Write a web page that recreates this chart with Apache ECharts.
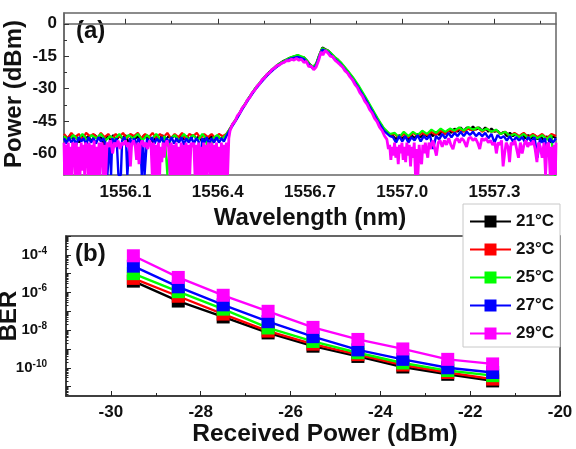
<!DOCTYPE html>
<html>
<head>
<meta charset="utf-8">
<script src="https://cdn.jsdelivr.net/npm/echarts@6.0.0/dist/echarts.min.js"></script>
<style>
  html, body { margin: 0; padding: 0; background: #fff; }
  #main { width: 576px; height: 449px; }
</style>
</head>
<body>
<div id="main"></div>
<script>
// ---- panel (a): optical spectra, [wavelength nm, power dBm] ----
const spec21 = [
  [1555.900,-52],[1555.910,-54],[1555.920,-51.5],[1555.930,-53.5],[1555.940,-52],[1555.950,-55],[1555.960,-51.5],[1555.970,-53],[1555.980,-52],[1555.990,-54.5],
  [1556.000,-51.5],[1556.010,-53],[1556.020,-52.5],[1556.030,-56],[1556.040,-52],[1556.050,-53.5],[1556.060,-51.5],[1556.070,-54],[1556.080,-52],[1556.090,-53],
  [1556.100,-51.5],[1556.110,-55],[1556.120,-52],[1556.130,-53.5],[1556.140,-52],[1556.150,-54],[1556.160,-51.5],[1556.170,-53],[1556.180,-52.5],[1556.190,-55],
  [1556.200,-52],[1556.210,-53.5],[1556.220,-51.5],[1556.230,-54],[1556.240,-52],[1556.250,-53],[1556.260,-51.5],[1556.270,-54.5],[1556.280,-52],[1556.290,-53.5],
  [1556.300,-52],[1556.310,-54],[1556.320,-51.5],[1556.330,-53],[1556.340,-52],[1556.350,-55],[1556.360,-52],[1556.370,-53.5],[1556.380,-52],[1556.390,-54],
  [1556.400,-52.5],[1556.410,-53],[1556.420,-52],[1556.430,-51.5],
  [1556.440,-48.5],[1556.450,-46],[1556.460,-44],[1556.470,-41.5],[1556.480,-39],[1556.490,-36.8],[1556.500,-34.5],[1556.510,-32.5],[1556.520,-30.3],[1556.530,-28.5],
  [1556.540,-26.8],[1556.550,-25],[1556.560,-23.5],[1556.570,-22],[1556.580,-20.8],[1556.590,-19.5],[1556.600,-18.5],[1556.610,-17.5],[1556.620,-16.8],[1556.630,-16],
  [1556.640,-15.5],[1556.650,-15],[1556.660,-14.6],[1556.670,-15.3],[1556.680,-15.5],[1556.690,-17],[1556.700,-18.8],[1556.710,-20],[1556.720,-18.5],[1556.730,-14.5],
  [1556.740,-11],[1556.750,-11.8],[1556.760,-12.5],[1556.770,-14],[1556.780,-15.5],[1556.790,-16.5],[1556.800,-18],[1556.810,-19.8],[1556.820,-21.5],[1556.830,-23.3],
  [1556.840,-25.2],[1556.850,-27.5],[1556.860,-29.5],[1556.870,-32],[1556.880,-34.3],[1556.890,-36.8],[1556.900,-39.3],[1556.910,-41.8],[1556.920,-44.2],[1556.930,-46.5],
  [1556.940,-48.5],[1556.950,-50.3],[1556.960,-51.5],
  [1556.970,-52],[1556.980,-53.5],[1556.990,-51.5],[1557.000,-53],[1557.010,-52],[1557.020,-54],[1557.030,-51.5],[1557.040,-53],[1557.050,-51],[1557.060,-52.5],
  [1557.070,-51],[1557.080,-52],[1557.090,-50.5],[1557.100,-52],[1557.110,-50],[1557.120,-51.5],[1557.130,-49.5],[1557.140,-51],[1557.150,-49],[1557.160,-50.5],
  [1557.170,-48.5],[1557.180,-50],[1557.190,-48],[1557.200,-49.5],[1557.210,-48],[1557.220,-49],[1557.230,-47.5],[1557.240,-49],[1557.250,-48],[1557.260,-49.5],
  [1557.270,-48],[1557.280,-50],[1557.290,-48.5],[1557.300,-50],[1557.310,-49.5],[1557.320,-51],[1557.330,-50],[1557.340,-52],[1557.350,-50.5],[1557.360,-52],
  [1557.370,-51],[1557.380,-52.5],[1557.390,-51],[1557.400,-53],[1557.410,-51.5],[1557.420,-53],[1557.430,-51.5],[1557.440,-53.5],[1557.450,-52],[1557.460,-54],
  [1557.470,-52],[1557.480,-55],[1557.490,-52],[1557.500,-53]
]
const spec23 = [
  [1555.900,-51],[1555.912,-53],[1555.924,-50.5],[1555.936,-52.5],[1555.948,-51],[1555.960,-53.5],[1555.972,-50.5],[1555.984,-52],[1555.996,-51],[1556.008,-53],
  [1556.020,-50.5],[1556.032,-52.5],[1556.044,-51],[1556.056,-53.5],[1556.068,-51],[1556.080,-52.5],[1556.092,-50.5],[1556.104,-53],[1556.116,-51],[1556.128,-52],
  [1556.140,-50.5],[1556.152,-53],[1556.164,-51],[1556.176,-52.5],[1556.188,-50.5],[1556.200,-53],[1556.212,-51],[1556.224,-52.5],[1556.236,-50.5],[1556.248,-53],
  [1556.260,-51],[1556.272,-52.5],[1556.284,-50.5],[1556.296,-53.5],[1556.308,-51],[1556.320,-52],[1556.332,-50.5],[1556.344,-53],[1556.356,-51],[1556.368,-52.5],
  [1556.380,-51],[1556.392,-53],[1556.404,-51],[1556.416,-52],[1556.428,-51],
  [1556.440,-48.5],[1556.460,-44.2],[1556.480,-39.2],[1556.500,-34.7],[1556.520,-30.5],[1556.540,-27],[1556.560,-23.8],[1556.580,-21],[1556.600,-18.8],[1556.620,-17],
  [1556.640,-15.8],[1556.660,-15],[1556.680,-15.8],[1556.700,-19],[1556.710,-20.3],[1556.720,-18.8],[1556.730,-14.8],[1556.740,-11.5],[1556.750,-12],[1556.760,-12.8],
  [1556.780,-15.8],[1556.800,-18.3],[1556.820,-21.8],[1556.840,-25.5],[1556.860,-29.8],[1556.880,-34.5],[1556.900,-39.5],[1556.920,-44.5],[1556.940,-48.8],[1556.960,-51.5],
  [1556.975,-51],[1556.990,-53],[1557.005,-51],[1557.020,-52.5],[1557.035,-50.5],[1557.050,-52],[1557.065,-50.5],[1557.080,-51.5],[1557.095,-50],[1557.110,-51.5],
  [1557.125,-49.5],[1557.140,-51],[1557.155,-49],[1557.170,-50.5],[1557.185,-48.5],[1557.200,-50],[1557.215,-48.5],[1557.230,-49.5],[1557.245,-48],[1557.260,-50],
  [1557.275,-48.5],[1557.290,-50],[1557.305,-49.5],[1557.320,-51],[1557.335,-50],[1557.350,-52],[1557.365,-50.5],[1557.380,-52],[1557.395,-50.5],[1557.410,-52.5],
  [1557.425,-51],[1557.440,-52.5],[1557.455,-51],[1557.470,-53],[1557.485,-51],[1557.500,-52]
]
const spec25 = [
  [1555.900,-52],[1555.915,-54],[1555.930,-51.5],[1555.945,-53.5],[1555.960,-51],[1555.975,-54],[1555.990,-51.5],[1556.005,-53],[1556.020,-51],[1556.035,-54],
  [1556.050,-52],[1556.065,-53.5],[1556.080,-51],[1556.095,-54],[1556.110,-51.5],[1556.125,-53],[1556.140,-51],[1556.155,-54],[1556.170,-51.5],[1556.185,-53.5],
  [1556.200,-51],[1556.215,-54],[1556.228,-52],[1556.236,-70],[1556.240,-70],[1556.246,-53],[1556.260,-51.5],[1556.275,-54],[1556.290,-51],[1556.305,-53.5],
  [1556.320,-51.5],[1556.335,-54],[1556.350,-51],[1556.362,-53],[1556.372,-68],[1556.378,-68],[1556.384,-53],[1556.398,-51.5],[1556.412,-53.5],[1556.426,-51.5],
  [1556.440,-48.5],[1556.460,-44],[1556.480,-39],[1556.500,-34.5],[1556.520,-30.2],[1556.540,-26.7],[1556.560,-23.5],[1556.580,-20.8],[1556.600,-18.5],[1556.620,-16.8],
  [1556.640,-15.4],[1556.660,-14.5],[1556.680,-15.5],[1556.700,-18.8],[1556.710,-20],[1556.720,-18.5],[1556.730,-14.5],[1556.740,-11.3],[1556.750,-12],[1556.760,-12.5],
  [1556.780,-15.3],[1556.800,-17.8],[1556.820,-21.2],[1556.840,-24.8],[1556.860,-29],[1556.880,-33.8],[1556.900,-38.8],[1556.920,-43.8],[1556.940,-48.3],[1556.960,-51],
  [1556.975,-50.5],[1556.990,-52.5],[1557.005,-50],[1557.020,-52],[1557.035,-50],[1557.050,-51.5],[1557.065,-49.5],[1557.080,-51],[1557.095,-49],[1557.110,-50.5],
  [1557.125,-48.5],[1557.140,-50],[1557.155,-48.5],[1557.170,-49.5],[1557.185,-48],[1557.200,-49.5],[1557.215,-47.8],[1557.230,-49],[1557.245,-48],[1557.260,-49.5],
  [1557.275,-48.5],[1557.290,-50],[1557.305,-49],[1557.320,-51],[1557.335,-50],[1557.350,-52],[1557.365,-51],[1557.380,-52.5],[1557.395,-51],[1557.410,-53],
  [1557.425,-51.5],[1557.440,-53],[1557.455,-51.5],[1557.470,-53.5],[1557.485,-51.5],[1557.495,-70],[1557.500,-70]
]
const spec27 = [
  [1555.900,-53],[1555.908,-55.5],[1555.916,-52.5],[1555.924,-55],[1555.932,-53],[1555.940,-56],[1555.948,-52.5],[1555.956,-54.5],[1555.964,-53],[1555.972,-56],
  [1555.980,-52.5],[1555.988,-55],[1555.996,-53],[1556.004,-55.5],[1556.012,-52.5],[1556.020,-54.5],[1556.028,-53],[1556.036,-56],[1556.041,-70],[1556.045,-70],
  [1556.049,-54],[1556.053,-70],[1556.057,-53],[1556.064,-55],[1556.071,-53],[1556.077,-70],[1556.081,-70],[1556.085,-70],[1556.089,-54],[1556.096,-52.5],
  [1556.102,-55],[1556.106,-70],[1556.110,-70],[1556.114,-53],[1556.121,-55.5],[1556.128,-53],[1556.135,-56],[1556.142,-53],[1556.148,-55],[1556.153,-70],
  [1556.157,-54],[1556.162,-70],[1556.166,-70],[1556.170,-53],[1556.178,-55],[1556.186,-52.5],[1556.194,-55.5],[1556.202,-53],[1556.210,-55],[1556.218,-52.5],
  [1556.226,-56],[1556.234,-53],[1556.242,-55],[1556.250,-52.5],[1556.258,-55.5],[1556.266,-53],[1556.274,-55],[1556.282,-52.5],[1556.290,-56],[1556.298,-53],
  [1556.306,-55],[1556.314,-52.5],[1556.322,-55.5],[1556.330,-53],[1556.338,-54.5],[1556.345,-70],[1556.349,-53],[1556.356,-55],[1556.364,-52.5],[1556.372,-55.5],
  [1556.380,-53],[1556.388,-55],[1556.396,-52.5],[1556.404,-55],[1556.412,-53],[1556.420,-54.5],[1556.428,-52],
  [1556.440,-49],[1556.460,-44.5],[1556.480,-39.5],[1556.500,-35],[1556.520,-30.8],[1556.540,-27.3],[1556.560,-24],[1556.580,-21.3],[1556.600,-19],[1556.620,-17.3],
  [1556.640,-16],[1556.660,-15.3],[1556.680,-16.3],[1556.700,-19.5],[1556.710,-20.8],[1556.720,-19.3],[1556.730,-15.3],[1556.740,-12],[1556.750,-12.5],[1556.760,-13.3],
  [1556.780,-16.3],[1556.800,-18.8],[1556.820,-22.3],[1556.840,-26],[1556.860,-30.3],[1556.880,-35],[1556.900,-40],[1556.920,-45],[1556.940,-49.5],[1556.960,-52],
  [1556.970,-52.5],[1556.980,-55],[1556.990,-52],[1557.000,-54.5],[1557.010,-52],[1557.020,-55],[1557.030,-52.5],[1557.040,-54],[1557.050,-51.5],[1557.060,-54.5],
  [1557.070,-52],[1557.080,-53.5],[1557.090,-51.5],[1557.100,-58],[1557.110,-52],[1557.120,-53.5],[1557.130,-51],[1557.140,-53],[1557.150,-50.5],[1557.160,-52.5],
  [1557.170,-50.5],[1557.180,-52],[1557.190,-50],[1557.200,-52],[1557.210,-50],[1557.220,-51.5],[1557.230,-50],[1557.240,-52],[1557.250,-50.5],[1557.260,-52],
  [1557.270,-50.5],[1557.280,-53],[1557.290,-51],[1557.300,-55],[1557.310,-51.5],[1557.320,-53],[1557.330,-52],[1557.340,-54],[1557.350,-52],[1557.360,-54.5],
  [1557.370,-52.5],[1557.380,-54],[1557.390,-52.5],[1557.400,-55],[1557.410,-52.5],[1557.420,-54.5],[1557.430,-52.5],[1557.440,-62],[1557.448,-53],[1557.456,-55],
  [1557.464,-53],[1557.472,-60],[1557.480,-53],[1557.490,-55],[1557.500,-53]
]
const spec29 = [
  [1555.900,-55],[1555.902,-70],[1555.906,-56],[1555.910,-70],[1555.914,-55],[1555.918,-70],[1555.922,-57],[1555.925,-70],[1555.928,-55],[1555.932,-56],
  [1555.936,-70],[1555.940,-55],[1555.944,-70],[1555.948,-57],[1555.952,-70],[1555.956,-55],[1555.960,-68],[1555.964,-56],[1555.967,-70],[1555.970,-55],
  [1555.974,-57],[1555.978,-70],[1555.982,-55],[1555.986,-70],[1555.990,-56],[1555.994,-70],[1555.998,-54],[1556.002,-70],[1556.006,-57],[1556.010,-70],
  [1556.014,-55],[1556.017,-70],[1556.020,-56],[1556.024,-55],[1556.028,-70],[1556.032,-56],[1556.036,-70],[1556.040,-55],
  [1556.046,-57],[1556.052,-54],[1556.058,-60],[1556.064,-55],[1556.070,-57],[1556.076,-54],[1556.082,-58],[1556.088,-55],[1556.094,-56],[1556.100,-54],
  [1556.106,-57],[1556.112,-55],[1556.116,-66],[1556.120,-56],[1556.126,-54],[1556.132,-57],[1556.136,-63],[1556.140,-55],[1556.144,-65],[1556.148,-56],
  [1556.154,-54],[1556.160,-57],[1556.166,-55],[1556.172,-58],[1556.178,-54],[1556.183,-56],
  [1556.187,-70],[1556.191,-55],[1556.195,-70],[1556.199,-56],[1556.203,-70],[1556.207,-55],[1556.211,-70],[1556.214,-57],[1556.218,-64],[1556.222,-55],
  [1556.226,-62],[1556.230,-56],[1556.235,-54],[1556.240,-57],
  [1556.245,-70],[1556.249,-55],[1556.253,-70],[1556.257,-56],[1556.261,-70],[1556.265,-55],[1556.269,-70],[1556.273,-57],[1556.277,-70],[1556.281,-55],
  [1556.285,-70],[1556.289,-56],[1556.293,-70],[1556.297,-55],[1556.301,-70],[1556.305,-56],[1556.309,-70],[1556.313,-55],[1556.318,-57],[1556.322,-55],
  [1556.326,-70],[1556.330,-56],[1556.334,-70],[1556.338,-55],[1556.342,-70],[1556.346,-57],[1556.350,-70],[1556.354,-55],[1556.358,-70],[1556.362,-56],
  [1556.366,-70],[1556.369,-55],[1556.372,-57],[1556.376,-70],[1556.380,-55],[1556.384,-70],[1556.388,-56],[1556.392,-70],[1556.396,-55],[1556.400,-70],
  [1556.404,-57],[1556.408,-70],[1556.412,-55],[1556.416,-70],[1556.420,-56],[1556.424,-70],[1556.428,-55],[1556.432,-70],[1556.436,-53],
  [1556.440,-49.5],[1556.448,-46.5],[1556.456,-45.2],[1556.464,-42.5],[1556.472,-41.2],[1556.480,-38.8],[1556.488,-37.6],[1556.496,-35.3],[1556.504,-34.2],[1556.512,-31.8],
  [1556.520,-30.8],[1556.528,-28.8],[1556.536,-27.8],[1556.544,-25.9],[1556.552,-25.1],[1556.560,-23.4],[1556.568,-22.8],[1556.576,-21.2],[1556.584,-20.6],[1556.592,-19.4],
  [1556.600,-19.1],[1556.608,-18.2],[1556.616,-17.9],[1556.624,-17],[1556.632,-17.1],[1556.640,-16.4],[1556.648,-16.8],[1556.656,-16],[1556.664,-16.9],[1556.672,-16.4],
  [1556.680,-17.9],[1556.688,-17.4],[1556.696,-19.9],[1556.704,-19.5],[1556.712,-21.3],[1556.720,-20],[1556.728,-17],[1556.736,-13],[1556.742,-14.5],[1556.750,-12.3],
  [1556.758,-13.5],[1556.766,-15],[1556.774,-15.3],[1556.782,-17],[1556.790,-17.9],[1556.798,-19],[1556.806,-20],[1556.814,-21.8],[1556.822,-22.8],[1556.830,-24.6],
  [1556.838,-25.9],[1556.846,-28],[1556.854,-29.5],[1556.862,-31.9],[1556.870,-33.4],[1556.878,-35.8],[1556.886,-37.3],[1556.894,-39.8],[1556.902,-41.3],[1556.910,-43.8],
  [1556.918,-45.3],[1556.926,-47.8],[1556.934,-49.3],[1556.942,-51.8],[1556.950,-53.5],
  [1556.955,-58],[1556.959,-56],[1556.963,-63],[1556.967,-57],[1556.971,-61],[1556.975,-55],[1556.979,-62],[1556.983,-57],[1556.987,-65],[1556.991,-56],
  [1556.995,-60],[1556.999,-55],[1557.003,-63],[1557.007,-57],[1557.011,-64],[1557.015,-55],[1557.019,-61],[1557.023,-56],[1557.027,-66],[1557.031,-57],
  [1557.035,-62],[1557.039,-55],[1557.043,-70],[1557.047,-58],[1557.051,-70],[1557.055,-56],[1557.059,-63],[1557.063,-65],[1557.067,-56],[1557.071,-60],
  [1557.075,-55],[1557.079,-59],[1557.083,-62],[1557.087,-55],[1557.091,-58],[1557.095,-56],[1557.100,-54],[1557.106,-58],[1557.111,-61],[1557.117,-55],
  [1557.123,-54],[1557.130,-57],[1557.137,-54],[1557.144,-56],[1557.151,-53],[1557.158,-56],[1557.165,-58],[1557.172,-54],[1557.179,-53],
  [1557.186,-55],[1557.193,-53],[1557.200,-54],[1557.209,-57],[1557.216,-53],[1557.223,-52.5],[1557.230,-54],[1557.238,-53],[1557.245,-55],[1557.252,-58],
  [1557.259,-53],[1557.266,-54],[1557.273,-53],[1557.280,-55],[1557.287,-54],[1557.294,-56],[1557.301,-55],[1557.306,-60],[1557.312,-55],[1557.318,-56],
  [1557.323,-54],[1557.328,-66],[1557.333,-60],[1557.338,-55],[1557.344,-57],[1557.349,-64],[1557.354,-55],[1557.360,-56],[1557.366,-54],[1557.372,-58],
  [1557.378,-62],[1557.384,-55],[1557.390,-60],[1557.396,-56],[1557.402,-54],[1557.408,-57],[1557.414,-55],[1557.420,-56],[1557.426,-54],[1557.432,-58],
  [1557.438,-64],[1557.443,-55],[1557.449,-57],[1557.455,-62],[1557.461,-55],[1557.466,-70],[1557.471,-56],[1557.476,-55],[1557.481,-70],[1557.486,-57],
  [1557.490,-70],[1557.494,-56],[1557.498,-70],[1557.500,-55]
]
const wlLabels = [1556.1, 1556.4, 1556.7, 1557.0, 1557.3]
const wlMinor = [1555.95, 1556.25, 1556.55, 1556.85, 1557.15, 1557.45]
const powLabels = [-60, -45, -30, -15, 0]
const powMinor = [-67.5, -52.5, -37.5, -22.5, -7.5]

// ---- panel (b): BER vs received power ----
const rxPower = [-29.5, -28.5, -27.5, -26.5, -25.5, -24.5, -23.5, -22.5, -21.5]
const ber21 = [4.0e-6, 3.5e-7, 5.0e-8, 7.1e-9, 1.4e-9, 4.0e-10, 1.1e-10, 4.5e-11, 2.0e-11]
const ber23 = [5.6e-6, 6.3e-7, 7.1e-8, 8.9e-9, 1.8e-9, 5.0e-10, 1.4e-10, 5.6e-11, 2.5e-11]
const ber25 = [1.0e-5, 1.1e-6, 1.3e-7, 1.3e-8, 2.5e-9, 6.3e-10, 1.8e-10, 7.1e-11, 3.8e-11]
const ber27 = [2.5e-5, 2.0e-6, 2.2e-7, 2.8e-8, 4.5e-9, 8.9e-10, 2.8e-10, 1.0e-10, 5.6e-11]
const ber29 = [8.9e-5, 6.3e-6, 7.1e-7, 1.0e-7, 1.4e-8, 3.2e-9, 1.0e-9, 2.8e-10, 1.6e-10]
const temps = ['21°C', '23°C', '25°C', '27°C', '29°C']
const colors = ['#000000', '#ff0000', '#00ff00', '#0000ff', '#ff00ff']
const rxLabels = [-30, -28, -26, -24, -22, -20]
const rxMinor = [-29, -27, -25, -23, -21]
const berExpLabels = [-10, -8, -6, -4]
const berExpTicks = [-11, -10, -9, -8, -7, -6, -5, -4, -3]

const FONT = 'Liberation Sans, Arial, sans-serif'
const specs = [spec21, spec23, spec25, spec27, spec29]
const specWidth = [2.2, 2.2, 2.2, 2.4, 2.8]
const bers = [ber21, ber23, ber25, ber27, ber29]

// minor ticks on the log BER axis (2..9 in each decade)
let berMinor = []
for (let n = -12; n < -3; n++) {
  for (let k = 2; k <= 9; k++) {
    let v = n + Math.log10(k)
    if (v > -11.5 && v < -3) berMinor.push(v)
  }
}

let series = []
specs.forEach((s, i) => {
  series.push({
    name: 'spec ' + temps[i],
    type: 'line',
    xAxisIndex: 0,
    yAxisIndex: 0,
    data: s,
    showSymbol: false,
    z: 2 + i,
    lineStyle: { color: colors[i], width: specWidth[i] },
    itemStyle: { color: colors[i] },
    silent: true
  })
})
bers.forEach((b, i) => {
  series.push({
    name: temps[i],
    type: 'line',
    xAxisIndex: 2,
    yAxisIndex: 2,
    data: rxPower.map((x, j) => [x, Math.log10(b[j])]),
    symbol: 'rect',
    symbolSize: 13,
    showSymbol: true,
    z: 2 + i,
    lineStyle: { color: colors[i], width: 2.4 },
    itemStyle: { color: colors[i] }
  })
})

const tickLabelStyle = { color: '#111', fontSize: 17, fontWeight: 'bold', fontFamily: FONT }
const nameStyle = { color: '#111', fontSize: 24, fontWeight: 'bold', fontFamily: FONT }

let myChart = echarts.init(document.getElementById('main'))
let option = {
  animation: false,
  backgroundColor: '#fff',
  grid: [
    { left: 64, top: 13, width: 492, height: 162, outerBoundsMode: 'none', show: true, borderColor: '#666', borderWidth: 1.5, backgroundColor: 'transparent' },
    { left: 66, top: 236, width: 494, height: 160, outerBoundsMode: 'none', show: true, borderColor: '#333', borderWidth: 1.5, backgroundColor: 'transparent' }
  ],
  xAxis: [
    {
      gridIndex: 0, type: 'value', min: 1555.9, max: 1557.5,
      name: 'Wavelength (nm)', nameLocation: 'middle', nameGap: 31, nameMoveOverlap: false, nameTextStyle: nameStyle,
      axisLine: { lineStyle: { color: '#666', width: 1.5 } },
      axisTick: { inside: true, length: 5, customValues: wlLabels, lineStyle: { color: '#333' } },
      axisLabel: { customValues: wlLabels, formatter: v => v.toFixed(1), margin: 9, ...tickLabelStyle },
      splitLine: { show: false }
    },
    {
      gridIndex: 0, type: 'value', min: 1555.9, max: 1557.5, position: 'bottom',
      axisLine: { show: false },
      axisTick: { inside: true, length: 3, customValues: wlMinor, lineStyle: { color: '#333' } },
      axisLabel: { show: false },
      splitLine: { show: false }
    },
    {
      gridIndex: 1, type: 'value', min: -31, max: -20,
      name: 'Received Power (dBm)', nameLocation: 'middle', nameGap: 26, nameMoveOverlap: false,
      nameTextStyle: { ...nameStyle, fontSize: 24.5, padding: [0, 0, 0, 24] },
      axisLine: { lineStyle: { color: '#333', width: 1.5 } },
      axisTick: { inside: true, length: 5, customValues: rxLabels, lineStyle: { color: '#222' } },
      axisLabel: { customValues: rxLabels, margin: 8, ...tickLabelStyle },
      splitLine: { show: false }
    },
    {
      gridIndex: 1, type: 'value', min: -31, max: -20, position: 'bottom',
      axisLine: { show: false },
      axisTick: { inside: true, length: 3, customValues: rxMinor, lineStyle: { color: '#222' } },
      axisLabel: { show: false },
      splitLine: { show: false }
    }
  ],
  yAxis: [
    {
      gridIndex: 0, type: 'value', min: -70, max: 5,
      name: 'Power (dBm)', nameLocation: 'middle', nameGap: 38, nameMoveOverlap: false, nameTextStyle: nameStyle,
      axisLine: { lineStyle: { color: '#666', width: 1.5 } },
      axisTick: { inside: true, length: 5, customValues: powLabels, lineStyle: { color: '#333' } },
      axisLabel: { customValues: powLabels, margin: 7, ...tickLabelStyle },
      splitLine: { show: false }
    },
    {
      gridIndex: 0, type: 'value', min: -70, max: 5, position: 'left',
      axisLine: { show: false },
      axisTick: { inside: true, length: 3, customValues: powMinor, lineStyle: { color: '#333' } },
      axisLabel: { show: false },
      splitLine: { show: false }
    },
    {
      gridIndex: 1, type: 'value', min: -11.5, max: -3,
      name: 'BER', nameLocation: 'middle', nameGap: 45, nameMoveOverlap: false, nameTextStyle: nameStyle,
      axisLine: { lineStyle: { color: '#333', width: 1.5 } },
      axisTick: { inside: true, length: 5, customValues: berExpTicks, lineStyle: { color: '#222' } },
      axisLabel: {
        customValues: berExpLabels, margin: 19,
        formatter: v => '10{sup|' + v + '}',
        color: '#111', fontSize: 15, fontWeight: 'bold', fontFamily: FONT,
        rich: { sup: { fontSize: 10, fontWeight: 'bold', fontFamily: FONT, color: '#111', padding: [0, 0, 8, 0] } }
      },
      splitLine: { show: false }
    },
    {
      gridIndex: 1, type: 'value', min: -11.5, max: -3, position: 'left',
      axisLine: { show: false },
      axisTick: { inside: true, length: 2.5, customValues: berMinor, lineStyle: { color: '#222' } },
      axisLabel: { show: false },
      splitLine: { show: false }
    }
  ],
  legend: {
    data: temps,
    orient: 'vertical',
    left: 463,
    top: 204,
    itemWidth: 41,
    itemHeight: 15,
    itemGap: 11,
    padding: [9, 6, 5, 6],
    borderColor: '#c8c8c8',
    borderWidth: 1,
    backgroundColor: '#fff',
    textStyle: { color: '#111', fontSize: 17, fontWeight: 'bold', fontFamily: FONT }
  },
  graphic: [
    { type: 'text', left: 76, top: 19, style: { text: '(a)', fill: '#111', font: 'bold 24px ' + FONT } },
    { type: 'text', left: 75, top: 242, style: { text: '(b)', fill: '#111', font: 'bold 24px ' + FONT } }
  ],
  series: series
}
myChart.setOption(option)
</script>
</body>
</html>
